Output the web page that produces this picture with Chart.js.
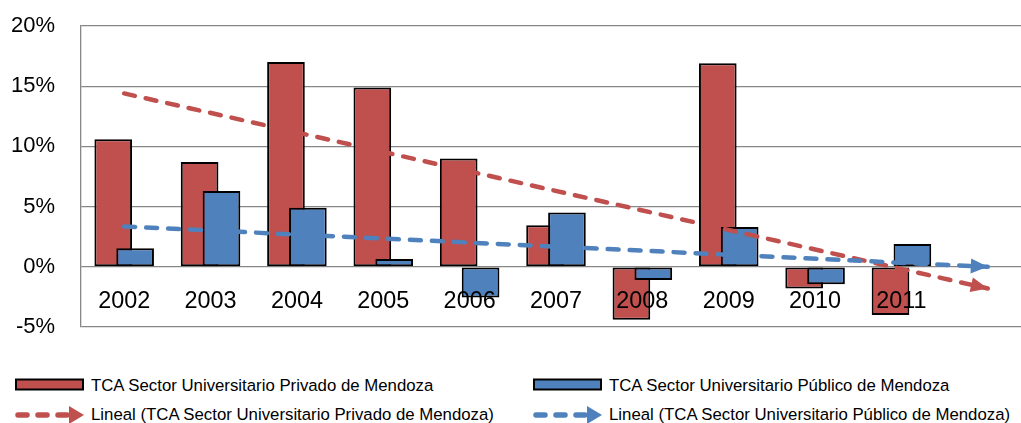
<!DOCTYPE html>
<html><head><meta charset="utf-8">
<script src="https://cdn.jsdelivr.net/npm/chart.js@4.4.0/dist/chart.umd.min.js"></script>
<style>
html,body{margin:0;padding:0;background:#fff;overflow:hidden;width:1021px;height:423px;}
#wrap{position:absolute;left:0;top:0;width:1040px;height:340px;}
.leg{position:absolute;font-family:"Liberation Sans",Arial,sans-serif;font-size:16.8px;color:#000;white-space:nowrap;line-height:20px;}
.mk{position:absolute;}
</style></head><body>
<div id="wrap"><canvas id="c" width="1040" height="340"></canvas></div>
<div id="legend"></div>
<script>
// ---- data ----
const categories = ['2002','2003','2004','2005','2006','2007','2008','2009','2010','2011',''];
const privado = [10.6, 8.7, 17.0, 14.9, 9.0, 3.45, -4.4, 16.9, -1.8, -4.0];
const publico = [1.55, 6.3, 4.9, 0.65, -2.55, 4.5, -1.1, 3.3, -1.45, 1.9];
const trendPrivado = [14.4, null, null, null, null, null, null, null, null, null, -1.8];
const trendPublico = [3.35, null, null, null, null, null, null, null, null, null, 0.0];
const yTicks = [-5, 0, 5, 10, 15, 20];
const seriesNames = [
  'TCA Sector Universitario Privado de Mendoza',
  'TCA Sector Universitario Público de Mendoza',
  'Lineal (TCA Sector Universitario Privado de Mendoza)',
  'Lineal (TCA Sector Universitario Público de Mendoza)'
];

const RED = '#C0504D', BLUE = '#4F81BD', GRID = '#878787';

// draw blue bars above red bars, keeping red on the left of each group
const barOrderPlugin = {
  id: 'barOrder',
  beforeDatasetDraw(chart, args) { if (args.index === 1) return false; },
  afterDatasetDraw(chart, args) {
    if (args.index === 0) {
      const ctx = chart.ctx; ctx.save();
      chart.getDatasetMeta(1).controller.draw();
      ctx.restore();
    }
  }
};
// arrowheads at the end of the trend lines
const arrowPlugin = {
  id: 'arrows',
  afterDatasetDraw(chart, args) {
    if (args.index < 2) return;
    const pts = args.meta.data.filter(p => !p.skip);
    if (pts.length < 2) return;
    const a = pts[0], b = pts[pts.length - 1];
    const ang = Math.atan2(b.y - a.y, b.x - a.x);
    const L = 17, W = 15, ctx = chart.ctx;
    ctx.save();
    ctx.translate(b.x, b.y); ctx.rotate(ang);
    ctx.beginPath();
    ctx.moveTo(0, 0); ctx.lineTo(-L, -W / 2); ctx.lineTo(-L, W / 2); ctx.closePath();
    ctx.fillStyle = chart.data.datasets[args.index].borderColor;
    ctx.fill();
    ctx.restore();
  }
};

new Chart(document.getElementById('c'), {
  type: 'bar',
  data: {
    labels: categories,
    datasets: [
      { label: seriesNames[0], data: privado, backgroundColor: RED, borderColor: '#000', borderWidth: 2, borderSkipped: false, order: 2,
        categoryPercentage: 0.507, barPercentage: 1.72 },
      { label: seriesNames[1], data: publico, backgroundColor: BLUE, borderColor: '#000', borderWidth: 2, borderSkipped: false, order: 2,
        categoryPercentage: 0.507, barPercentage: 1.72 },
      { type: 'line', label: seriesNames[2], data: trendPrivado, borderColor: RED, borderWidth: 4.5, borderDash: [11, 11],
        borderCapStyle: 'round', pointRadius: 0, spanGaps: true, fill: false, order: 1 },
      { type: 'line', label: seriesNames[3], data: trendPublico, borderColor: BLUE, borderWidth: 4.5, borderDash: [11, 11],
        borderCapStyle: 'round', pointRadius: 0, spanGaps: true, fill: false, order: 0 }
    ]
  },
  options: {
    responsive: false, animation: false, devicePixelRatio: 1,
    layout: { padding: { left: 0, top: 26, right: 9, bottom: 13 } },
    plugins: { legend: { display: false }, tooltip: { enabled: false } },
    scales: {
      x: {
        type: 'category', offset: true, position: { y: 0 },
        grid: { display: false, drawTicks: false }, border: { display: false },
        ticks: { z: 1, color: '#000', padding: 21, maxRotation: 0, autoSkip: false,
          font: { family: '"Liberation Sans", Arial, sans-serif', size: 23.4 } },
        afterFit(s) { s.paddingLeft = 0; s.paddingRight = 0; }
      },
      y: {
        min: -5, max: 20,
        grid: { color: GRID, lineWidth: 1.3, drawTicks: false },
        border: { display: true, color: GRID, width: 1.3 },
        afterBuildTicks(s) { s.ticks = yTicks.map(v => ({ value: v })); },
        ticks: { color: '#000', padding: 26, callback: v => v + '%',
          font: { family: '"Liberation Sans", Arial, sans-serif', size: 22 } },
        afterFit(s) { s.width = 81; s.paddingTop = 0; s.paddingBottom = 0; }
      }
    }
  },
  plugins: [barOrderPlugin, arrowPlugin]
});

// ---- legend ----
const legend = document.getElementById('legend');
function barMarker(x, y, color) {
  return `<svg class="mk" style="left:${x}px;top:${y}px" width="70" height="14"><rect x="1" y="1.5" width="67" height="10" fill="${color}" stroke="#000" stroke-width="2"/></svg>`;
}
function lineMarker(x, y, color) {
  return `<svg class="mk" style="left:${x}px;top:${y}px" width="72" height="22">
    <line x1="3" y1="11" x2="56" y2="11" stroke="${color}" stroke-width="5.5" stroke-dasharray="9 11" stroke-linecap="round"/>
    <polygon points="54,2 69,11 54,20" fill="${color}"/></svg>`;
}
const items = [
  { x: 15, y: 378, tx: 91, ty: 376, kind: 'bar', color: RED, name: seriesNames[0] },
  { x: 533, y: 378, tx: 609, ty: 376, kind: 'bar', color: BLUE, name: seriesNames[1] },
  { x: 15, y: 404, tx: 91, ty: 405, kind: 'line', color: RED, name: seriesNames[2] },
  { x: 533, y: 404, tx: 609, ty: 405, kind: 'line', color: BLUE, name: seriesNames[3] }
];
legend.innerHTML = items.map(it =>
  (it.kind === 'bar' ? barMarker(it.x, it.y, it.color) : lineMarker(it.x, it.y, it.color)) +
  `<div class="leg" style="left:${it.tx}px;top:${it.ty}px">${it.name}</div>`
).join('');
</script>
</body></html>
